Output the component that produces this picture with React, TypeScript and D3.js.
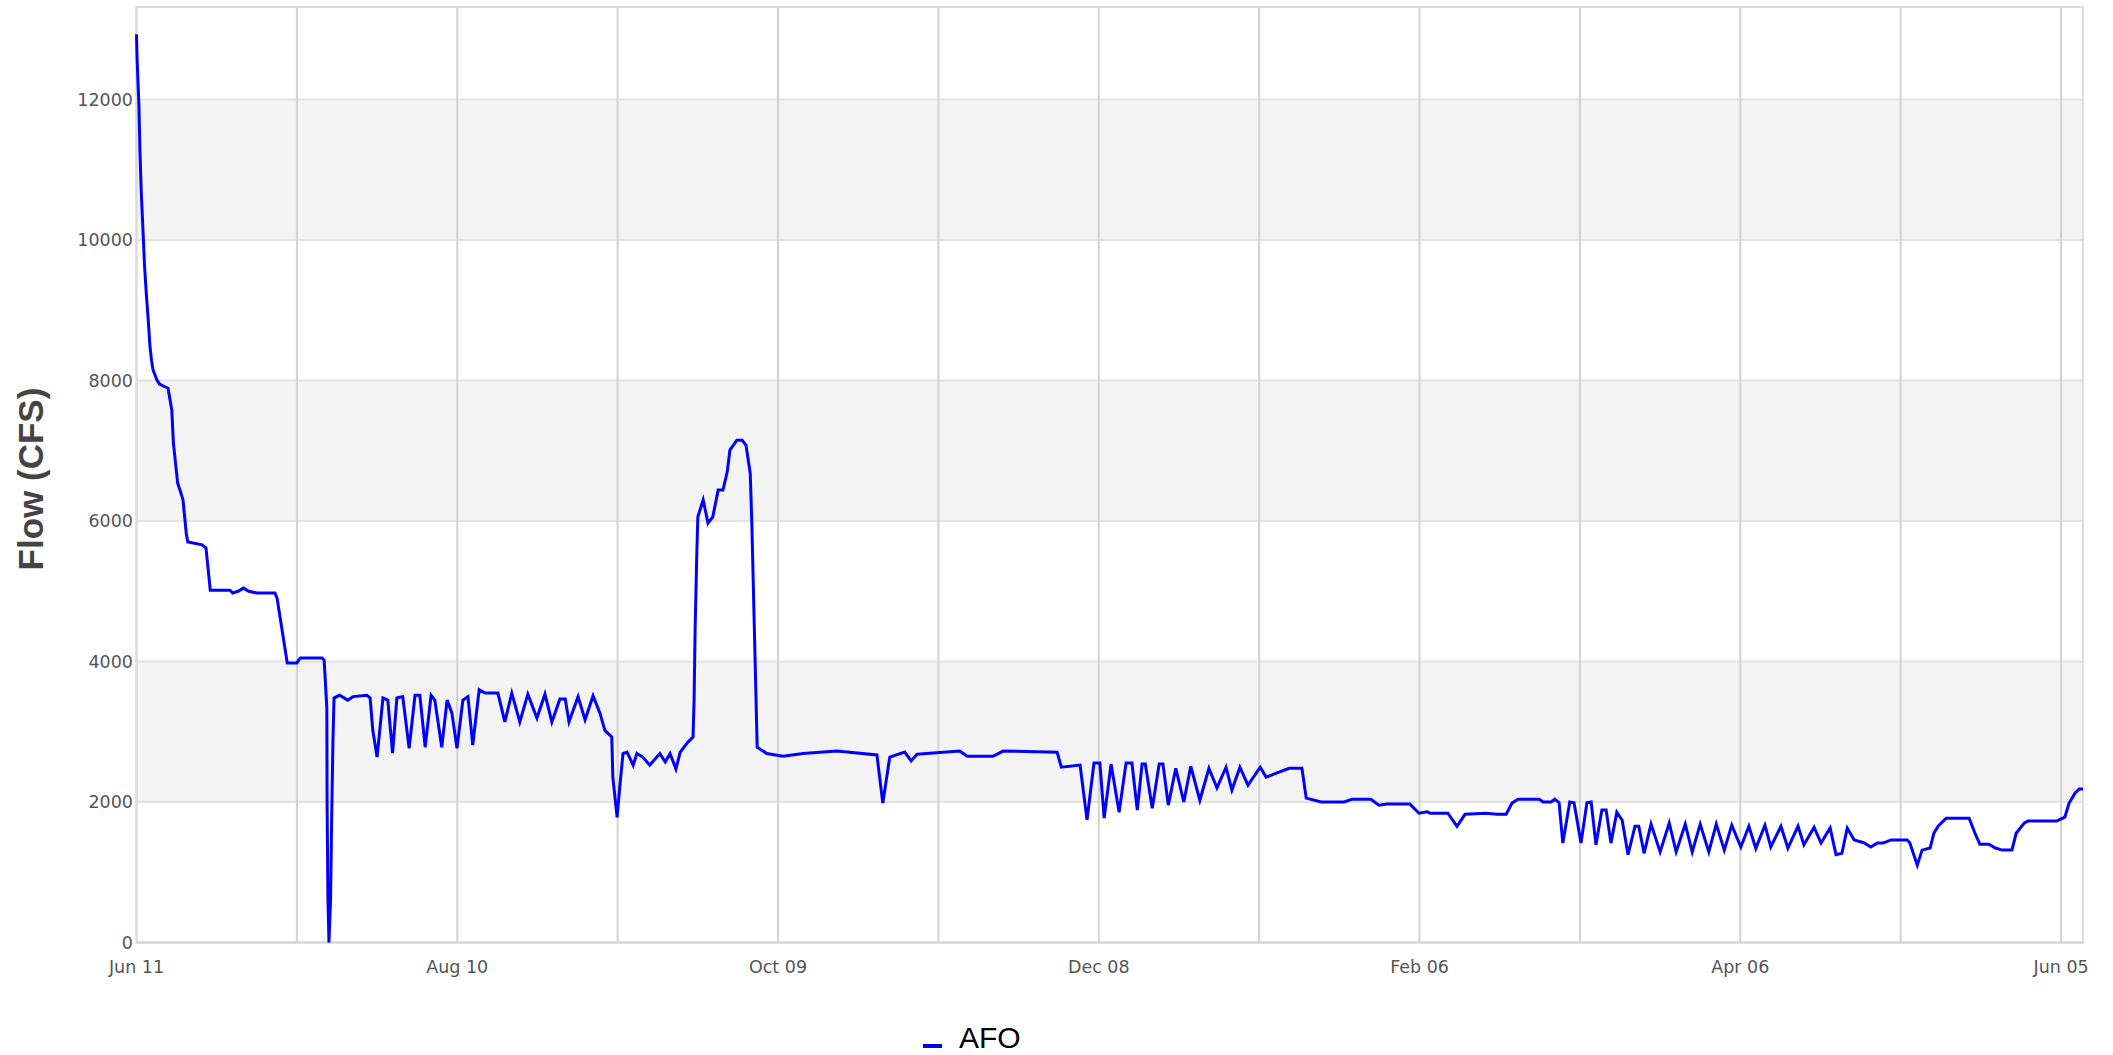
import React from "react";
import * as d3 from "d3";

const START = new Date(2023, 5, 11);
const END_DAY = 364.1;

// [days since Jun 11, flow in CFS]
const flowPoints: [number, number][] = [
  [0, 12930], [0.1, 12600], [0.45, 11920], [0.65, 11250], [0.9, 10660], [1.2, 10160], [1.5, 9640], [1.85, 9220],
  [2.2, 8860], [2.5, 8505], [2.8, 8290], [3.1, 8150], [3.8, 8010], [4.3, 7950], [5.9, 7890], [6.6, 7580],
  [6.9, 7110], [7.3, 6825], [7.7, 6540], [8.3, 6400], [8.7, 6300], [9.3, 5830], [9.6, 5700], [12.3, 5660],
  [13.0, 5615], [13.8, 5015], [17.5, 5015], [18.0, 4975], [19, 5000], [20.0, 5045], [21.0, 5000], [22.5, 4975],
  [25.9, 4975], [26.3, 4900], [28.2, 3980], [30.0, 3980], [30.6, 4050], [34.7, 4050], [35.1, 4020], [35.6, 3340],
  [35.65, 2000], [35.8, 650], [36.0, 0], [36.3, 600], [36.5, 1740], [36.75, 2880], [36.95, 3480], [38.0, 3520],
  [39.5, 3450], [40.5, 3500], [43.1, 3520], [43.7, 3480], [44.2, 3020], [45.0, 2640], [45.5, 3020], [46.1, 3480],
  [47.0, 3450], [47.9, 2695], [48.7, 3480], [49.8, 3500], [51.0, 2765], [52.1, 3520], [53.0, 3520], [54.0, 2780],
  [55.1, 3520], [55.8, 3450], [57.1, 2780], [58.1, 3450], [59.0, 3265], [59.95, 2765], [61.05, 3450], [62.0, 3500],
  [62.9, 2810], [63.5, 3210], [64.1, 3600], [65.2, 3550], [67.6, 3550], [68.9, 3140], [70.2, 3550], [71.7, 3140],
  [73.2, 3535], [74.9, 3195], [76.4, 3535], [77.7, 3140], [79.2, 3465], [80.2, 3465], [80.9, 3140], [82.6, 3500],
  [83.9, 3170], [85.4, 3510], [86.7, 3265], [87.6, 3020], [88.9, 2925], [89.1, 2355], [89.9, 1780], [90.4, 2215],
  [91.0, 2690], [91.75, 2710], [92.9, 2525], [93.6, 2690], [94.7, 2640], [96.0, 2525], [97.9, 2690], [98.9, 2570],
  [99.8, 2690], [100.9, 2470], [101.7, 2710], [103.0, 2840], [104.1, 2925], [104.3, 3450], [104.5, 4490], [104.8, 5515],
  [105.0, 6060], [106.0, 6300], [106.9, 5970], [107.8, 6060], [108.8, 6440], [109.7, 6440], [110.5, 6700], [111.0, 7010],
  [112.3, 7150], [113.3, 7150], [114.0, 7080], [114.8, 6680], [115.1, 5970], [115.5, 4690], [115.9, 3420], [116.1, 2780],
  [117.9, 2690], [120.9, 2650], [124.7, 2690], [131.0, 2725], [138.5, 2670], [139.6, 1985], [140.9, 2640], [143.7, 2710],
  [144.9, 2585], [146.0, 2680], [154.0, 2725], [155.4, 2650], [160.2, 2650], [162.1, 2725], [172.2, 2710], [173.0, 2495],
  [176.5, 2525], [177.8, 1745], [179.1, 2555], [180.2, 2555], [181.0, 1770], [182.3, 2540], [183.8, 1855], [185.1, 2555],
  [186.2, 2555], [187.2, 1885], [188.1, 2540], [188.7, 2540], [190.0, 1910], [191.3, 2540], [192.0, 2540], [193.0, 1955],
  [194.4, 2480], [195.9, 2000], [197.2, 2510], [198.9, 2025], [200.6, 2480], [202.1, 2200], [203.8, 2495], [204.9, 2170],
  [206.4, 2495], [207.9, 2240], [210.2, 2495], [211.3, 2355], [213.7, 2425], [215.6, 2480], [218.0, 2480], [218.8, 2055],
  [221.6, 2000], [225.9, 2000], [227.4, 2040], [230.9, 2040], [232.4, 1955], [233.9, 1970], [238.2, 1970], [239.9, 1840],
  [241.4, 1860], [242.0, 1840], [245.3, 1840], [247.0, 1655], [248.5, 1825], [252.4, 1840], [254.5, 1825], [256.2, 1825],
  [257.3, 1985], [258.4, 2040], [262.4, 2040], [263.1, 2000], [264.6, 2000], [265.3, 2040], [266.1, 1990], [266.8, 1415],
  [268.1, 2000], [268.9, 1990], [270.2, 1415], [271.3, 1990], [272.1, 2000], [273.0, 1390], [274.1, 1885], [274.9, 1885],
  [275.8, 1415], [276.9, 1855], [277.9, 1740], [279.0, 1250], [280.3, 1655], [281.0, 1655], [282.0, 1270], [283.3, 1685],
  [285.0, 1290], [286.7, 1700], [288.0, 1290], [289.7, 1685], [291.0, 1290], [292.5, 1685], [294.1, 1290], [295.5, 1685],
  [297.0, 1315], [298.4, 1670], [300.1, 1360], [301.6, 1655], [302.9, 1340], [304.6, 1670], [305.7, 1360], [307.6, 1655],
  [308.9, 1345], [310.8, 1655], [311.9, 1390], [313.8, 1640], [315.1, 1415], [316.8, 1630], [317.9, 1250], [319.0, 1270],
  [320.0, 1630], [321.3, 1460], [323.1, 1420], [324.4, 1360], [325.6, 1415], [326.7, 1415], [328.2, 1460], [331.2, 1460],
  [331.7, 1420], [333.1, 1100], [334.0, 1315], [335.5, 1345], [336.2, 1555], [337.0, 1655], [338.5, 1770], [342.8, 1770],
  [343.9, 1555], [344.8, 1400], [346.5, 1400], [347.7, 1345], [349.0, 1315], [350.8, 1315], [351.6, 1555], [353.1, 1700],
  [353.8, 1730], [359.2, 1730], [360.7, 1785], [361.5, 1985], [362.6, 2125], [363.4, 2185], [364.1, 2185],
];

const yTicks = [0, 2000, 4000, 6000, 8000, 10000, 12000];
const bands: [number, number][] = [[2000, 4000], [6000, 8000], [10000, 12000]];
const gridDays = [0, 30, 60, 90, 120, 150, 180, 210, 240, 270, 300, 330, 360];
const seriesName = "AFO";
const yTitle = "Flow (CFS)";

const W = 2113, H = 1055;
const L = 136.5, R = 2083, T = 7, B = 942.5;

const dayToDate = (d: number) => new Date(START.getTime() + d * 86400000);

export default function App() {
  const x = d3.scaleTime().domain([START, dayToDate(END_DAY)]).range([L, R]);
  const y = d3.scaleLinear().domain([0, 13317]).range([B, T]);
  const line = d3
    .line<[number, number]>()
    .x((p) => x(dayToDate(p[0])))
    .y((p) => y(p[1]));
  const fmt = d3.timeFormat("%b %d");
  const font = "'DejaVu Sans', sans-serif";

  return (
    <svg width={W} height={H} style={{ position: "absolute", left: 0, top: 0, background: "#fff" }}>
      <rect x={L} y={T} width={R - L} height={B - T} fill="#fff" />
      {bands.map(([a, b], i) => (
        <rect key={i} x={L} y={y(b)} width={R - L} height={y(a) - y(b)} fill="#f3f3f3" />
      ))}
      {yTicks.map((v) => (
        <line key={v} x1={L} x2={R} y1={y(v)} y2={y(v)} stroke="#e2e2e2" strokeWidth={2} />
      ))}
      {gridDays.map((d) => (
        <line key={d} x1={x(dayToDate(d))} x2={x(dayToDate(d))} y1={T} y2={B} stroke="#d2d2d2" strokeWidth={2} />
      ))}
      <rect x={L} y={T} width={R - L} height={B - T} fill="none" stroke="#dddddd" strokeWidth={2} />
      <line x1={L} x2={R} y1={B} y2={B} stroke="#d6d6d6" strokeWidth={2} />
      <path d={line(flowPoints) || ""} fill="none" stroke="#0000ff" strokeWidth={3} strokeLinejoin="miter" />
      {yTicks.map((v) => (
        <text key={v} x={133} y={y(v)} dy="0.36em" textAnchor="end" fontFamily={font} fontSize={17.5} fill="#555">
          {v}
        </text>
      ))}
      {gridDays.filter((d, i) => i % 2 === 0).map((d) => (
        <text key={d} x={x(dayToDate(d))} y={973} textAnchor="middle" fontFamily={font} fontSize={17.5} fill="#555">
          {fmt(dayToDate(d))}
        </text>
      ))}
      <text
        transform={`translate(43,479) rotate(-90)`}
        textAnchor="middle"
        fontFamily="'Liberation Sans', Arial, sans-serif"
        fontWeight="bold"
        fontSize={35}
        fill="#444"
      >
        {yTitle}
      </text>
      <line x1={923} x2={942} y1={1046} y2={1046} stroke="#0000ff" strokeWidth={4} />
      <text x={959} y={1048} fontFamily="'Liberation Sans', Arial, sans-serif" fontSize={30} fill="#000">
        {seriesName}
      </text>
    </svg>
  );
}
